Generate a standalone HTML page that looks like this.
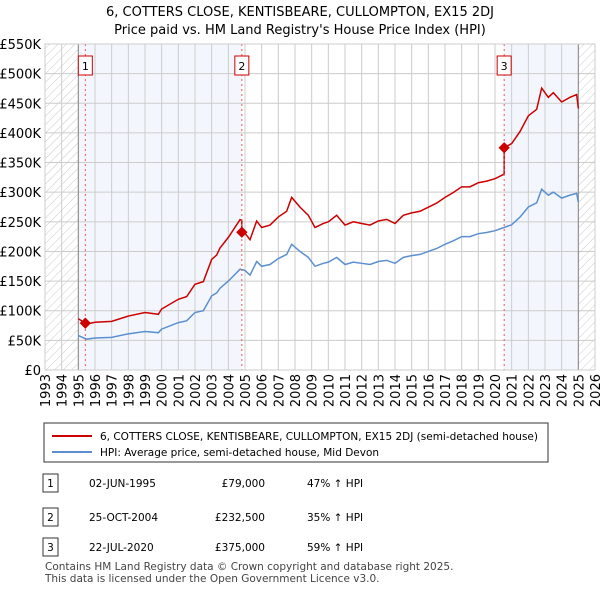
<!DOCTYPE html>
<html><head><meta charset="utf-8"><style>
body{margin:0;background:#fff;font-family:"DejaVu Sans",sans-serif;color:#222}
svg text{font-family:"DejaVu Sans",sans-serif}
</style></head><body>
<svg id="c" width="600" height="590" xmlns="http://www.w3.org/2000/svg">
<defs><pattern id="h" width="6" height="6" patternUnits="userSpaceOnUse" patternTransform="rotate(45)"><line x1="0" y1="0" x2="0" y2="6" stroke="#bbb" stroke-width="0.8"/></pattern></defs>
<text x="300" y="16" text-anchor="middle" font-size="13">6, COTTERS CLOSE, KENTISBEARE, CULLOMPTON, EX15 2DJ</text>
<text x="300" y="34" text-anchor="middle" font-size="13">Price paid vs. HM Land Registry's House Price Index (HPI)</text>
<g id="plot"></g>
<rect x="44" y="423" width="504" height="39" fill="#fff" stroke="#333"/>
<line x1="52" y1="436" x2="92" y2="436" stroke="#c00" stroke-width="2"/>
<text x="100" y="440" font-size="10.5">6, COTTERS CLOSE, KENTISBEARE, CULLOMPTON, EX15 2DJ (semi-detached house)</text>
<line x1="52" y1="452" x2="92" y2="452" stroke="#5b8fd0" stroke-width="2"/>
<text x="100" y="456" font-size="10.5">HPI: Average price, semi-detached house, Mid Devon</text>
<g id="tbl" font-size="10.5"></g>
<text x="45" y="570" font-size="10.5" fill="#444">Contains HM Land Registry data © Crown copyright and database right 2025.</text>
<text x="45" y="582" font-size="10.5" fill="#444">This data is licensed under the Open Government Licence v3.0.</text>
</svg>
<script>
const hpiYears=[1995.0,1995.5,1996,1997,1998,1999,1999.8,2000,2001,2001.5,2002,2002.5,2003,2003.3,2003.5,2004,2004.7,2005,2005.3,2005.7,2006,2006.5,2007,2007.5,2007.8,2008.3,2008.8,2009.2,2009.7,2010,2010.5,2011,2011.5,2012,2012.5,2013,2013.5,2014,2014.5,2015,2015.5,2016,2016.5,2017,2017.5,2018,2018.5,2019,2019.5,2020,2020.5,2021,2021.5,2022,2022.5,2022.8,2023.2,2023.5,2024,2024.5,2024.9,2025.0];
const hpiValues=[58,52,54,55,61,65,63,69,80,83,97,100,125,130,138,150,170,168,160,183,175,178,188,195,212,200,190,175,180,182,190,178,182,180,178,183,185,180,190,193,195,200,205,212,218,225,225,230,232,235,240,245,258,275,282,305,295,300,290,295,298,283];
const saleLabels=["1","2","3"];
const saleDates=[1995.42,2004.81,2020.55];
const salePrices=[79000,232500,375000];
const saleDateText=["02-JUN-1995","25-OCT-2004","22-JUL-2020"];
const salePriceText=["£79,000","£232,500","£375,000"];
const saleHpiText=["47% ↑ HPI","35% ↑ HPI","59% ↑ HPI"];
const yTicks=[0,50,100,150,200,250,300,350,400,450,500,550];
const yTickLabels=["£0","£50K","£100K","£150K","£200K","£250K","£300K","£350K","£400K","£450K","£500K","£550K"];
const xYears=[];for(let y=1993;y<=2026;y++)xYears.push(y);

const X0=45,X1=595,Y0=370,Y1=44;
const xs=t=>X0+(t-1993)/(2026-1993)*(X1-X0);
const ys=v=>Y0-v/550*(Y0-Y1);
const NS="http://www.w3.org/2000/svg";
const g=document.getElementById('plot');
function mk(tag,at,parent){const e=document.createElementNS(NS,tag);for(const k in at)e.setAttribute(k,at[k]);(parent||g).appendChild(e);return e;}
function hpiAt(t){for(let i=1;i<hpiYears.length;i++){if(t<=hpiYears[i]){const a=hpiYears[i-1],b=hpiYears[i];return hpiValues[i-1]+(hpiValues[i]-hpiValues[i-1])*(t-a)/(b-a);}}return hpiValues[hpiValues.length-1];}

let e;
e=mk('rect',{x:X0,y:Y1,width:X1-X0,height:Y0-Y1,fill:'#fff'});


e=mk('rect',{x:xs(1995),y:Y1,width:xs(saleDates[1])-xs(1995),height:Y0-Y1,fill:'#eef3fc',opacity:0.7});


e=mk('rect',{x:xs(saleDates[2]),y:Y1,width:xs(2025)-xs(saleDates[2]),height:Y0-Y1,fill:'#eef3fc',opacity:0.7});


e=mk('rect',{x:X0,y:Y1,width:xs(1995)-X0,height:Y0-Y1,fill:'url(#h)'});


e=mk('rect',{x:xs(2025),y:Y1,width:X1-xs(2025),height:Y0-Y1,fill:'url(#h)'});


yTicks.forEach((v,i)=>{
 e=mk('line',{x1:X0,x2:X1,y1:ys(v),y2:ys(v),stroke:'#ccc'});
 
 
 e=mk('text',{x:X0-4,y:ys(v)+5,'text-anchor':'end','font-size':13});
 e.textContent=yTickLabels[i];
 
 
});
xYears.forEach(y=>{
 e=mk('line',{x1:xs(y),x2:xs(y),y1:Y1,y2:Y0,stroke:'#ccc'});
 
 
 e=mk('text',{x:0,y:0,'text-anchor':'end','font-size':13,transform:`translate(${xs(y)+5},${Y0+4}) rotate(-90)`});
 e.textContent=y;
 
 
});
e=mk('line',{x1:xs(1995),x2:xs(1995),y1:Y1,y2:Y0,stroke:'#888'});


e=mk('line',{x1:xs(2025),x2:xs(2025),y1:Y1,y2:Y0,stroke:'#888'});


e=mk('polyline',{points:hpiYears.map((t,i)=>xs(t)+','+ys(hpiValues[i])).join(' '),fill:'none',stroke:'#5b8fd0','stroke-width':1.5});


const pts=[];
hpiYears.forEach((t,i)=>{
 let k=0;for(let j=0;j<saleDates.length;j++)if(t>=saleDates[j])k=j;
 const f=salePrices[k]/1000/hpiAt(saleDates[k]);
 pts.push([t,hpiValues[i]*f]);
});
saleDates.forEach((d,j)=>{
 const fPrev=j>0?salePrices[j-1]/1000/hpiAt(saleDates[j-1]):salePrices[0]/1000/hpiAt(saleDates[0]);
 pts.push([d-0.001,hpiAt(d)*fPrev]);pts.push([d,salePrices[j]/1000]);
});
pts.sort((a,b)=>a[0]-b[0]);
e=mk('polyline',{points:pts.map(p=>xs(p[0])+','+ys(p[1])).join(' '),fill:'none',stroke:'#c00','stroke-width':1.5});


saleDates.forEach((d,j)=>{
 e=mk('line',{x1:xs(d),x2:xs(d),y1:Y1,y2:Y0,stroke:'#e55','stroke-dasharray':'2,3'});
 
 
 e=mk('rect',{x:xs(d)-4,y:ys(salePrices[j]/1000)-4,width:8,height:8,fill:'#c00',transform:`rotate(45 ${xs(d)} ${ys(salePrices[j]/1000)})`});
 
 
 e=mk('rect',{x:xs(d)-7,y:56,width:14,height:19,fill:'#fff',stroke:'#c00'});
 
 
 e=mk('text',{x:xs(d),y:70,'text-anchor':'middle','font-size':11});
 e.textContent=saleLabels[j];
 
 
});
e=mk('rect',{x:X0,y:Y1,width:X1-X0,height:Y0-Y1,fill:'none',stroke:'#ccc'});


const t=document.getElementById('tbl');
const rowY=[483,517,547];
saleLabels.forEach((l,j)=>{
 const y=rowY[j];
 e=mk('rect',{x:43,y:y-9,width:15,height:18,fill:'#fff',stroke:'#333'},t);
 
 
 e=mk('text',{x:50.5,y:y+4,'text-anchor':'middle'},t);e.textContent=l;
 
 
 e=mk('text',{x:89,y:y+4},t);e.textContent=saleDateText[j];
 
 
 e=mk('text',{x:265,y:y+4,'text-anchor':'end'},t);e.textContent=salePriceText[j];
 
 
 e=mk('text',{x:307,y:y+4},t);e.textContent=saleHpiText[j];
 
 
});
</script>
</body></html>
